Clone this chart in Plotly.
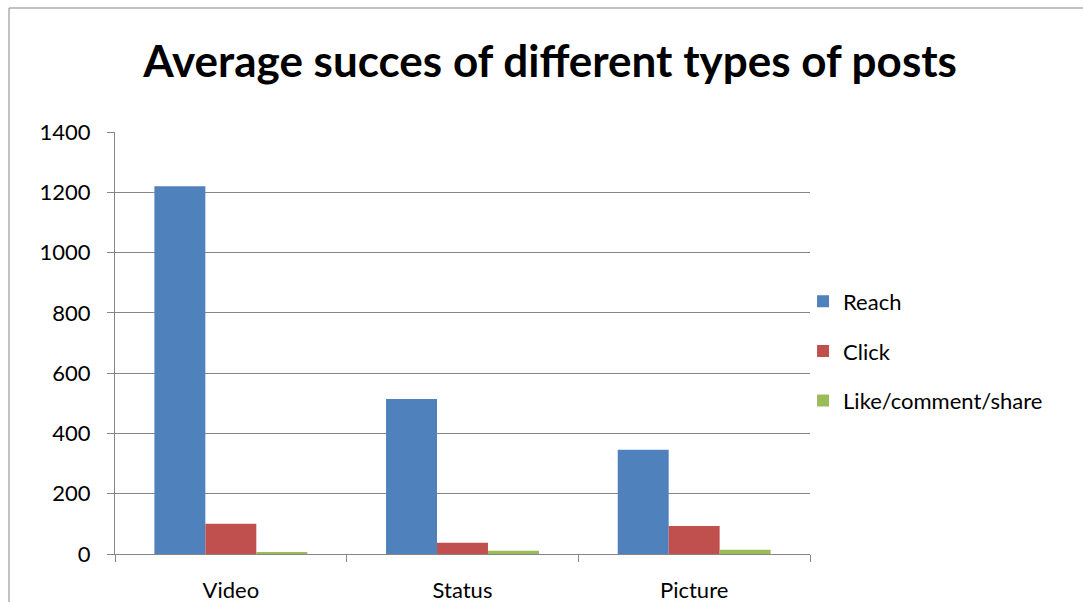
import plotly.graph_objects as go

categories = ["Video", "Status", "Picture"]
reach = [1220, 514, 346]
click = [100, 37, 93]
like_comment_share = [5, 11, 14]

series = [
    ("Reach", reach, "#4F81BD"),
    ("Click", click, "#C0504D"),
    ("Like/comment/share", like_comment_share, "#9BBB59"),
]

fig = go.Figure()
for name, values, color in series:
    fig.add_trace(go.Bar(
        x=categories, y=values, name=name, legendgroup=name,
        marker=dict(color=color, line=dict(width=0)),
    ))

grid = "#868686"
font_family = "Lato, 'Open Sans', sans-serif"

fig.update_layout(
    width=1083, height=602,
    margin=dict(l=115, r=273, t=132, b=48, autoexpand=False),
    paper_bgcolor="white", plot_bgcolor="white",
    font=dict(family=font_family, size=22, color="black"),
    barmode="group", bargap=0.34, bargroupgap=0,
    title=dict(
        text="<b>Average succes of different types of posts</b>",
        x=0.508, xanchor="center", y=1 - 62 / 602, yanchor="middle",
        font=dict(size=44, family=font_family, color="black"),
    ),
    legend=dict(
        x=0.99, xanchor="left", y=0.481, yanchor="middle",
        font=dict(size=22), itemsizing="constant", tracegroupgap=18,
        traceorder="grouped", bgcolor="rgba(0,0,0,0)",
    ),
    xaxis=dict(
        automargin=False,
        showline=True, linecolor=grid, linewidth=1,
        ticks="outside", tickson="boundaries", ticklen=7, tickcolor=grid,
        showgrid=False, ticklabelstandoff=17,
    ),
    yaxis=dict(
        automargin=False,
        range=[0, 1400], dtick=200,
        showline=True, linecolor=grid, linewidth=1,
        showgrid=True, gridcolor=grid, gridwidth=1,
        ticks="outside", ticklen=7, tickcolor=grid,
        zeroline=False, ticklabelstandoff=12,
    ),
    shapes=[dict(
        type="rect", xref="paper", yref="paper",
        x0=(9 - 115) / 695, x1=1.5, y0=-0.3, y1=(554 - 8) / 422,
        line=dict(color=grid, width=1), layer="below",
    )],
)

fig.write_html("out.html")
